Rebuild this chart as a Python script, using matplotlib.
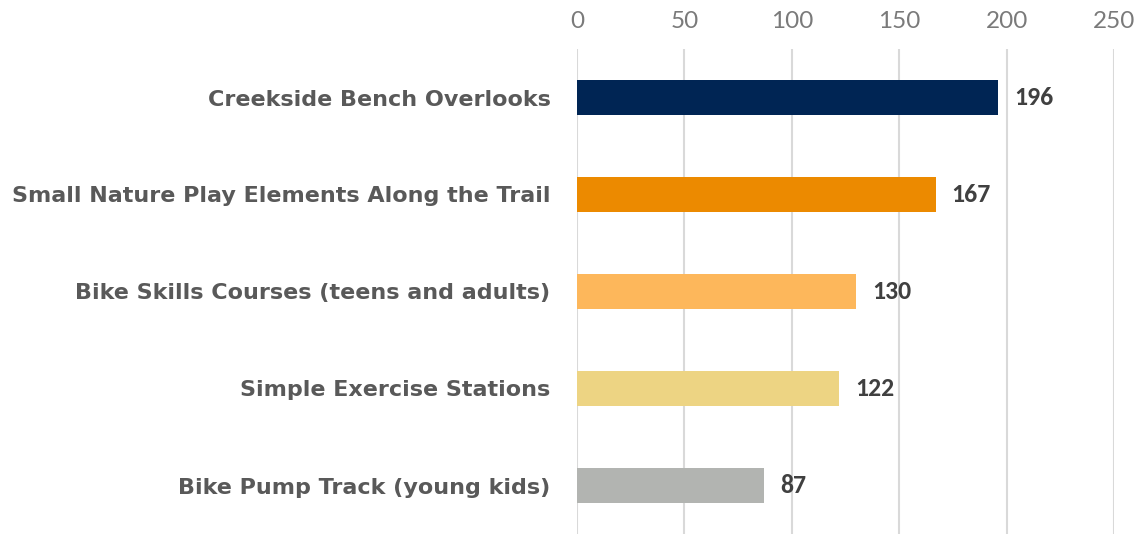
import matplotlib
matplotlib.use("Agg")
from matplotlib import pyplot as plt

categories = ["Creekside Bench Overlooks",
              "Small Nature Play Elements Along the Trail",
              "Bike Skills Courses (teens and adults)",
              "Simple Exercise Stations",
              "Bike Pump Track (young kids)"]
values = [196, 167, 130, 122, 87]
colors = ["#002554", "#EC8A00", "#FDB75B", "#EDD483", "#B2B4B1"]
ticks = [0, 50, 100, 150, 200, 250]

fig = plt.figure(figsize=(11.36, 5.34), dpi=100)
ax = fig.add_axes([577/1136, 0.0, (1114-577)/1136, 485/534])

pos = list(range(len(categories)))
ax.barh(pos, values, height=0.37, color=colors, zorder=3)
ax.set_ylim(len(categories) - 0.5, -0.5)
ax.set_xlim(0, 250)
ax.set_xticks(ticks)
ax.xaxis.tick_top()
ax.tick_params(axis="x", length=0, pad=12, labelsize=17.5, labelcolor="#7A7A7A")
for lab in ax.get_xticklabels():
    lab.set_fontfamily("Lato")
    lab.set_fontweight("normal")
ax.set_yticks(pos)
ax.set_yticklabels(categories, fontsize=16, fontweight="bold", color="#595959", family="DejaVu Sans")
ax.tick_params(axis="y", length=0, pad=19)
ax.grid(axis="x", color="#D9D9D9", linewidth=1.5, zorder=0)
for s in ax.spines.values():
    s.set_visible(False)

for p, v in zip(pos, values):
    ax.text(v + 7.4, p, str(v), va="center", ha="left", fontsize=18.5,
            fontweight="bold", color="#404040", family=["Carlito", "Lato"])

fig.savefig("out.png", dpi=100)
